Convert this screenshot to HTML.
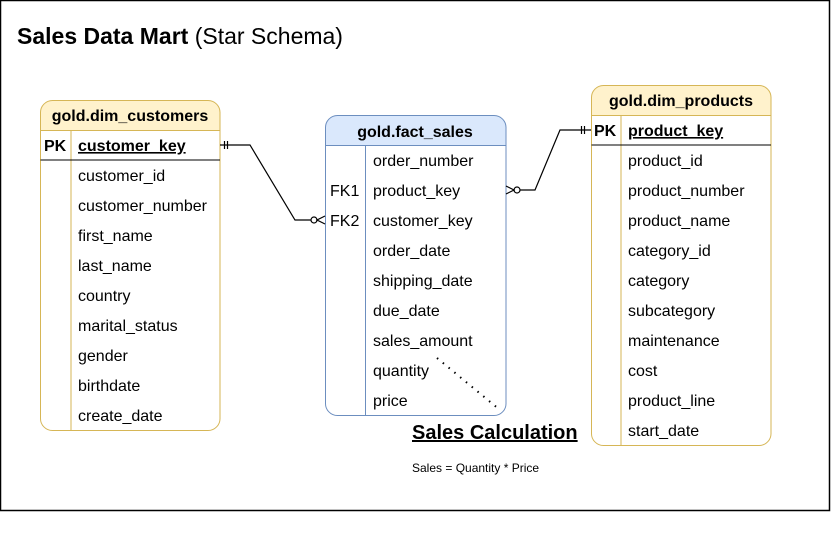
<!DOCTYPE html>
<html><head><meta charset="utf-8"><style>
html,body{margin:0;padding:0;background:#fff;}
svg{display:block;}
text{font-family:"Liberation Sans",Arial,sans-serif;}
</style></head><body>
<svg width="831" height="534" viewBox="0 0 831 534" xmlns="http://www.w3.org/2000/svg">
<rect x="0.5" y="0.5" width="829" height="510" fill="#fff" stroke="#000" stroke-width="1.5"/>
<text x="17" y="44" font-size="23" font-weight="bold" fill="#000">Sales Data Mart <tspan font-weight="normal" font-size="23">(Star Schema)</tspan></text>

<!-- customers -->
<path d="M40.5,130.5 V113 a12,12 0 0 1 12,-12.5 H208 a12,12 0 0 1 12,12.5 V130.5 Z" fill="#fff2cc" stroke="#d6b656"/>
<path d="M40.5,130.5 H220 V418 a12,12 0 0 1 -12,12.5 H52.5 a12,12 0 0 1 -12,-12.5 Z" fill="#fff" stroke="#d6b656"/>
<line x1="71" y1="130.5" x2="71" y2="430.5" stroke="#d6b656"/>
<line x1="40.5" y1="160" x2="220" y2="160" stroke="#000"/>
<text x="130" y="121" font-size="16" font-weight="bold" text-anchor="middle">gold.dim_customers</text>
<g font-size="16">
<text x="44" y="151" font-weight="bold">PK</text>
<text x="78" y="151" font-weight="bold" text-decoration="underline">customer_key</text>
<text x="78" y="181">customer_id</text>
<text x="78" y="211">customer_number</text>
<text x="78" y="241">first_name</text>
<text x="78" y="271">last_name</text>
<text x="78" y="301">country</text>
<text x="78" y="331">marital_status</text>
<text x="78" y="361">gender</text>
<text x="78" y="391">birthdate</text>
<text x="78" y="421">create_date</text>
</g>

<!-- fact -->
<path d="M325.5,145.5 V128 a12,12 0 0 1 12,-12.5 H494 a12,12 0 0 1 12,12.5 V145.5 Z" fill="#dae8fc" stroke="#6c8ebf"/>
<path d="M325.5,145.5 H506 V403 a12,12 0 0 1 -12,12.5 H337.5 a12,12 0 0 1 -12,-12.5 Z" fill="#fff" stroke="#6c8ebf"/>
<line x1="365.5" y1="145.5" x2="365.5" y2="415.5" stroke="#6c8ebf"/>
<text x="415" y="137" font-size="16" font-weight="bold" text-anchor="middle">gold.fact_sales</text>
<g font-size="16">
<text x="373" y="166">order_number</text>
<text x="330" y="196">FK1</text><text x="373" y="196">product_key</text>
<text x="330" y="226">FK2</text><text x="373" y="226">customer_key</text>
<text x="373" y="256">order_date</text>
<text x="373" y="286">shipping_date</text>
<text x="373" y="316">due_date</text>
<text x="373" y="346">sales_amount</text>
<text x="373" y="376">quantity</text>
<text x="373" y="406">price</text>
</g>
<line x1="437" y1="358" x2="500" y2="410" stroke="#000" stroke-width="2" stroke-dasharray="1.5,6"/>

<!-- products -->
<path d="M591.5,115.5 V98 a12,12 0 0 1 12,-12.5 H759 a12,12 0 0 1 12,12.5 V115.5 Z" fill="#fff2cc" stroke="#d6b656"/>
<path d="M591.5,115.5 H771 V433 a12,12 0 0 1 -12,12.5 H603.5 a12,12 0 0 1 -12,-12.5 Z" fill="#fff" stroke="#d6b656"/>
<line x1="621" y1="115.5" x2="621" y2="445.5" stroke="#d6b656"/>
<line x1="591.5" y1="145" x2="771" y2="145" stroke="#000"/>
<text x="681" y="106" font-size="16" font-weight="bold" text-anchor="middle">gold.dim_products</text>
<g font-size="16">
<text x="594" y="136" font-weight="bold">PK</text>
<text x="628" y="136" font-weight="bold" text-decoration="underline">product_key</text>
<text x="628" y="166">product_id</text>
<text x="628" y="196">product_number</text>
<text x="628" y="226">product_name</text>
<text x="628" y="256">category_id</text>
<text x="628" y="286">category</text>
<text x="628" y="316">subcategory</text>
<text x="628" y="346">maintenance</text>
<text x="628" y="376">cost</text>
<text x="628" y="406">product_line</text>
<text x="628" y="436">start_date</text>
</g>

<!-- connectors -->
<g fill="none" stroke="#000" stroke-width="1.2">
<polyline points="220,145 250,145 295,220 311,220"/>
<line x1="224.5" y1="141" x2="224.5" y2="149"/><line x1="227.5" y1="141" x2="227.5" y2="149"/>
<circle cx="314" cy="220" r="3" fill="#fff"/>
<polyline points="325,216 317,220 325,224"/>
<polyline points="591,130 560,130 535,190 520,190"/>
<line x1="584.5" y1="126" x2="584.5" y2="134"/><line x1="581.5" y1="126" x2="581.5" y2="134"/>
<circle cx="517" cy="190" r="3" fill="#fff"/>
<polyline points="506,186 514,190 506,194"/>
</g>

<text x="412" y="439" font-size="20" font-weight="bold" text-decoration="underline">Sales Calculation</text>
<text x="412" y="472" font-size="12">Sales = Quantity * Price</text>
</svg>
</body></html>
